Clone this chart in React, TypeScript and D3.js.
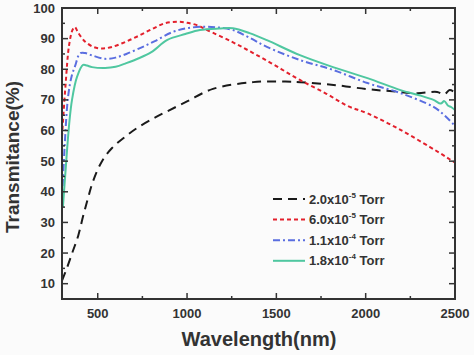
import React from "react";
import * as d3 from "d3";

const xTicks = [500, 1000, 1500, 2000, 2500];
const xMinorTicks = [750, 1250, 1750, 2250];
const yTicks = [10, 20, 30, 40, 50, 60, 70, 80, 90, 100];
const yMinorTicks = [15, 25, 35, 45, 55, 65, 75, 85, 95];

const blackX = [300, 330, 360, 390, 418, 446, 474, 524, 580, 650, 720, 820, 900, 1000, 1145, 1370, 1550, 1634, 1820, 2010, 2150, 2290, 2400, 2440, 2470, 2500];
const blackY = [11, 15.5, 20.5, 25.5, 32, 38, 43.5, 50, 54.3, 57.8, 60.8, 64.2, 66.6, 69.5, 73.6, 75.8, 76, 75.8, 74.9, 73.5, 72.8, 72.2, 72.6, 71.8, 73.2, 72.4];

const redX = [300, 320, 340, 360, 372, 390, 430, 480, 530, 580, 650, 725, 800, 876, 950, 1000, 1060, 1112, 1250, 1370, 1500, 1632, 1780, 1900, 2010, 2195, 2360, 2420, 2460, 2500];
const redY = [58, 75, 88, 93, 93.8, 92, 89, 87.2, 86.8, 87.3, 88.8, 90.8, 93, 95, 95.5, 95.2, 94.3, 92.8, 89, 85.3, 81, 76.5, 72, 68, 65.6, 60.2, 54.6, 52.5, 51, 49.5];

const blueX = [300, 315, 334, 355, 373, 401, 430, 470, 541, 600, 660, 740, 820, 921, 1010, 1112, 1180, 1257, 1350, 1447, 1632, 1817, 2010, 2195, 2380, 2440, 2500];
const blueY = [37, 55, 71, 78, 81, 85.2, 85.3, 84.5, 83.4, 83.8, 85, 87, 89.2, 92.2, 93.5, 93.9, 93.6, 92.8, 90.3, 87.3, 83, 79.8, 75.5, 72.2, 67.7, 65, 61.5];

const greenX = [305, 320, 340, 356, 384, 418, 440, 468, 541, 600, 660, 730, 800, 890, 990, 1072, 1180, 1257, 1350, 1447, 1632, 1817, 2010, 2195, 2300, 2380, 2420, 2440, 2460, 2480, 2500];
const greenY = [35, 47, 62, 70, 77.5, 81.4, 81.2, 80.7, 80.4, 80.8, 82, 83.6, 85.6, 89.6, 91.5, 92.8, 93.3, 93.4, 91.8, 89.5, 84.6, 80.7, 77.1, 73.2, 71.5, 70, 68.8, 69.6, 68.2, 67.6, 66.7];

const seriesLabels = ["2.0x10", "6.0x10", "1.1x10", "1.8x10"];
const seriesExps = ["-5", "-5", "-4", "-4"];

const W = 474, H = 355;
const M = { left: 62, right: 19, top: 8, bottom: 56 };
const FONT = "'Liberation Sans', Arial, sans-serif";
const AXIS = "#333";

export default function App() {
  const x = d3.scaleLinear().domain([300, 2500]).range([M.left, W - M.right]);
  const y = d3.scaleLinear().domain([5, 100]).range([H - M.bottom, M.top]);
  const line = d3
    .line<[number, number]>()
    .x((d) => x(d[0]))
    .y((d) => y(d[1]))
    .curve(d3.curveCatmullRom.alpha(0.5));

  const series = [
    { xs: blackX, ys: blackY, color: "#1a1a1a", dash: "9 6" },
    { xs: redX, ys: redY, color: "#e3202c", dash: "4 3" },
    { xs: blueX, ys: blueY, color: "#5a6ee0", dash: "7 3 2 3" },
    { xs: greenX, ys: greenY, color: "#4fc7a0", dash: "" },
  ];

  const x0 = M.left, x1 = W - M.right, y0 = H - M.bottom, y1 = M.top;

  return (
    <svg width={W} height={H} style={{ position: "absolute", left: 0, top: 0 }}>
      <rect width={W} height={H} fill="#fbfbfb" />
      <defs>
        <clipPath id="plot">
          <rect x={x0} y={y1} width={x1 - x0} height={y0 - y1} />
        </clipPath>
      </defs>
      <g clipPath="url(#plot)">
        {series.map((s, i) => (
          <path
            key={i}
            d={line(s.xs.map((v, j) => [v, s.ys[j]] as [number, number])) || ""}
            fill="none"
            stroke={s.color}
            strokeWidth={2}
            strokeDasharray={s.dash}
          />
        ))}
      </g>
      {xTicks.map((t) => (
        <g key={"xt" + t}>
          <line x1={x(t)} x2={x(t)} y1={y0} y2={y0 - 6} stroke={AXIS} strokeWidth={1.5} />
          <line x1={x(t)} x2={x(t)} y1={y1} y2={y1 + 6} stroke={AXIS} strokeWidth={1.5} />
          <text x={x(t)} y={318} textAnchor="middle" fontFamily={FONT} fontWeight="bold" fontSize={13} fill={AXIS}>
            {t}
          </text>
        </g>
      ))}
      {xMinorTicks.map((t) => (
        <g key={"xm" + t}>
          <line x1={x(t)} x2={x(t)} y1={y0} y2={y0 - 3} stroke={AXIS} strokeWidth={1.5} />
          <line x1={x(t)} x2={x(t)} y1={y1} y2={y1 + 3} stroke={AXIS} strokeWidth={1.5} />
        </g>
      ))}
      {yTicks.map((t) => (
        <g key={"yt" + t}>
          <line x1={x0} x2={x0 + 6} y1={y(t)} y2={y(t)} stroke={AXIS} strokeWidth={1.5} />
          <line x1={x1} x2={x1 - 6} y1={y(t)} y2={y(t)} stroke={AXIS} strokeWidth={1.5} />
          <text x={55} y={y(t) + 4.5} textAnchor="end" fontFamily={FONT} fontWeight="bold" fontSize={13} fill={AXIS}>
            {t}
          </text>
        </g>
      ))}
      {yMinorTicks.map((t) => (
        <g key={"ym" + t}>
          <line x1={x0} x2={x0 + 3} y1={y(t)} y2={y(t)} stroke={AXIS} strokeWidth={1.5} />
          <line x1={x1} x2={x1 - 3} y1={y(t)} y2={y(t)} stroke={AXIS} strokeWidth={1.5} />
        </g>
      ))}
      <rect x={x0} y={y1} width={x1 - x0} height={y0 - y1} fill="none" stroke={AXIS} strokeWidth={2} />
      {series.map((s, i) => {
        const ly = 199 + i * 20.6;
        return (
          <g key={"lg" + i}>
            <line x1={273} x2={305} y1={ly} y2={ly} stroke={s.color} strokeWidth={2} strokeDasharray={s.dash} />
            <text x={309} y={ly + 4.5} fontFamily={FONT} fontWeight="bold" fontSize={13} fill={AXIS}>
              {seriesLabels[i]}
              <tspan fontSize={8} dy={-6}>{seriesExps[i]}</tspan>
              <tspan dy={6}>{" Torr"}</tspan>
            </text>
          </g>
        );
      })}
      <text x={259} y={346} textAnchor="middle" fontFamily={FONT} fontWeight="bold" fontSize={20} fill={AXIS}>
        Wavelength(nm)
      </text>
      <text
        transform={`translate(19,157) rotate(-90)`}
        textAnchor="middle"
        fontFamily={FONT}
        fontWeight="bold"
        fontSize={19}
        fill={AXIS}
      >
        Transmitance(%)
      </text>
    </svg>
  );
}
